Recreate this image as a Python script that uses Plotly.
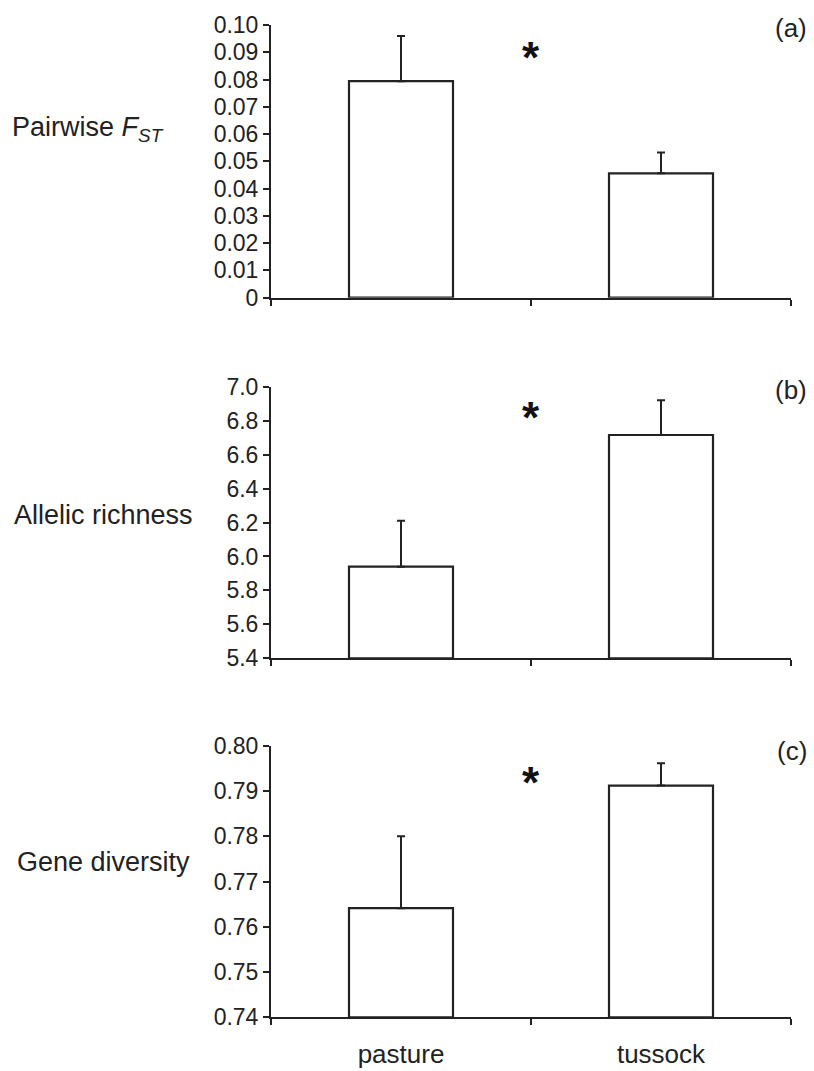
import plotly.graph_objects as go

categories = ["pasture", "tussock"]

# panel (a) Pairwise FST
fst_mean = [0.0794, 0.0456]
fst_err = [0.0166, 0.0076]
fst_ticks = [0, 0.01, 0.02, 0.03, 0.04, 0.05, 0.06, 0.07, 0.08, 0.09, 0.10]
fst_ticktext = ["0", "0.01", "0.02", "0.03", "0.04", "0.05", "0.06", "0.07", "0.08", "0.09", "0.10"]

# panel (b) Allelic richness
ar_mean = [5.94, 6.716]
ar_err = [0.27, 0.205]
ar_ticks = [5.4, 5.6, 5.8, 6.0, 6.2, 6.4, 6.6, 6.8, 7.0]

# panel (c) Gene diversity
gd_mean = [0.7641, 0.7912]
gd_err = [0.0159, 0.0049]
gd_ticks = [0.74, 0.75, 0.76, 0.77, 0.78, 0.79, 0.80]

panel_titles = ["Pairwise <i>F<sub>ST</sub></i>", "Allelic richness", "Gene diversity"]
panel_letters = ["(a)", "(b)", "(c)"]

W, H = 814, 1071
INK = "#222222"
FONT = "Liberation Sans, Arial, sans-serif"

def px_x(x):
    return x / W

def px_y(y):
    return 1 - y / H

x_dom = [px_x(271), px_x(791)]
y_doms = [
    [px_y(297.7), px_y(25)],
    [px_y(658.3), px_y(386.8)],
    [px_y(1017.3), px_y(745.7)],
]
y_ranges = [[0, 0.10], [5.4, 7.0], [0.74, 0.80]]

fig = go.Figure()

series = [(fst_mean, fst_err), (ar_mean, ar_err), (gd_mean, gd_err)]
for i, (m, e) in enumerate(series):
    sfx = "" if i == 0 else str(i + 1)
    base = y_ranges[i][0]
    fig.add_trace(go.Bar(
        x=categories, y=[v - base for v in m], base=base, width=0.4,
        marker=dict(color="white", line=dict(color=INK, width=2.2)),
        error_y=dict(type="data", symmetric=False, array=e, arrayminus=[0, 0],
                     thickness=2, width=4, color=INK),
        xaxis="x" + sfx, yaxis="y" + sfx, showlegend=False,
        hovertemplate="%{x}: %{customdata}<extra></extra>", customdata=m,
    ))

layout = dict(
    template="none",
    width=W, height=H, autosize=False,
    margin=dict(l=0, r=0, t=0, b=0, pad=0, autoexpand=False),
    paper_bgcolor="white", plot_bgcolor="white",
    font=dict(family=FONT, color=INK),
    showlegend=False,
)

tick_sets = [
    dict(tickvals=fst_ticks, ticktext=fst_ticktext),
    dict(tickvals=ar_ticks, ticktext=[f"{v:.1f}" for v in ar_ticks]),
    dict(tickvals=gd_ticks, ticktext=[f"{v:.2f}" for v in gd_ticks]),
]

for i in range(3):
    sfx = "" if i == 0 else str(i + 1)
    layout["xaxis" + sfx] = dict(
        domain=x_dom, anchor="y" + sfx, type="category",
        categoryorder="array", categoryarray=categories,
        range=[-0.5, 1.5], showline=True, linewidth=2, linecolor=INK,
        ticks="outside", tickson="boundaries", ticklen=6, tickwidth=1.5, tickcolor=INK,
        showgrid=False, zeroline=False, automargin=False,
        showticklabels=(i == 2), tickfont=dict(size=26, color=INK, family=FONT),
        ticklabelstandoff=12,
    )
    layout["yaxis" + sfx] = dict(
        domain=y_doms[i], anchor="x" + sfx, range=y_ranges[i],
        showline=True, linewidth=2, linecolor=INK,
        ticks="outside", ticklen=6, tickwidth=1.5, tickcolor=INK,
        showgrid=False, zeroline=False, automargin=False,
        tickfont=dict(size=23, color=INK, family=FONT),
        **tick_sets[i],
    )

annotations = []
title_y = [129, 515, 862]
title_x = [10, 12, 15]
letter_y = [28, 390, 751]
star_y = [52, 413, 777]
for i in range(3):
    annotations.append(dict(text=panel_titles[i], xref="paper", yref="paper",
                            x=px_x(title_x[i]), y=px_y(title_y[i]),
                            xanchor="left", yanchor="middle", showarrow=False,
                            font=dict(size=27, color=INK, family=FONT)))
    annotations.append(dict(text=panel_letters[i], xref="paper", yref="paper",
                            x=px_x(809), y=px_y(letter_y[i]),
                            xanchor="right", yanchor="middle", showarrow=False,
                            font=dict(size=26, color=INK, family=FONT)))
    annotations.append(dict(text="<b>*</b>", xref="paper", yref="paper",
                            x=px_x(531), y=px_y(star_y[i] + 5),
                            xanchor="center", yanchor="middle", showarrow=False,
                            font=dict(size=44, color="#111111", family=FONT)))
layout["annotations"] = annotations

fig.update_layout(**layout)
fig.write_html("out.html", config={"responsive": False, "displayModeBar": False})

# remove the browser's default page margin so the figure fills the window
with open("out.html", "r", encoding="utf-8") as f:
    html = f.read()
html = html.replace("<head>", "<head><style>html,body{margin:0;padding:0;overflow:hidden;}</style>", 1)
with open("out.html", "w", encoding="utf-8") as f:
    f.write(html)
